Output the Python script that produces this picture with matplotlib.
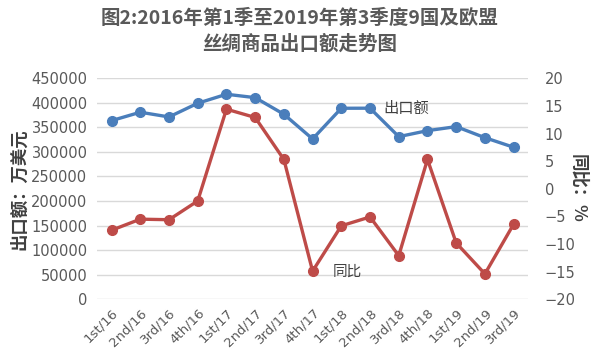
import matplotlib
matplotlib.use('Agg')
import matplotlib.pyplot as plt

plt.rcParams['font.family'] = ['DejaVu Sans', 'Noto Sans CJK SC']

# quarters and values
quarters = ['1st/16', '2nd/16', '3rd/16', '4th/16', '1st/17', '2nd/17', '3rd/17', '4th/17',
            '1st/18', '2nd/18', '3rd/18', '4th/18', '1st/19', '2nd/19', '3rd/19']
export_value = [363700, 380800, 371200, 399100, 417400, 410500, 376700, 326400,
                388900, 389000, 331100, 343300, 351500, 329000, 309500]
yoy_pct = [-7.5, -5.5, -5.6, -2.2, 14.4, 12.9, 5.3, -14.9,
           -6.7, -5.1, -12.1, 5.3, -9.8, -15.4, -6.4]

blue = '#4A7EBB'
red = '#BE4B48'
txt = '#595959'

fig = plt.figure(figsize=(6, 3.54), dpi=100)
ax = fig.add_axes([0.162, 0.1545, 0.718, 0.6245])
ax2 = ax.twinx()

x = list(range(len(quarters)))
ax.plot(x, export_value, color=blue, lw=2.4, marker='o', ms=7, zorder=3)
ax2.plot(x, yoy_pct, color=red, lw=2.4, marker='o', ms=7, zorder=3)

ax.set_xlim(-0.5, len(quarters) - 0.5)
ax.set_ylim(0, 450000)
ax.set_yticks(range(0, 450001, 50000))
ax2.set_ylim(-20, 20)
ax2.set_yticks(range(-20, 21, 5))

ax.grid(axis='y', color='#D9D9D9', lw=1)
ax.set_axisbelow(True)
for a in (ax, ax2):
    for s in a.spines.values():
        s.set_visible(False)
    a.tick_params(length=0, labelsize=10.5, colors=txt)

ax.set_xticks(x)
ax.set_xticklabels(quarters, rotation=45, ha='right', rotation_mode='anchor')
ax.tick_params(axis='x', pad=5, labelsize=9.5)
ax.tick_params(axis='y', pad=7)
ax2.tick_params(axis='y', pad=12)

ax.set_ylabel('出口额：万美元', family=['Noto Sans CJK SC'], fontsize=12.5,
              fontweight='bold', color='#404040', labelpad=2)
ax2.set_ylabel('同比：%', family=['Noto Sans CJK SC', 'DejaVu Sans'], fontsize=12.5,
               fontweight='bold', color='#404040', rotation=270, labelpad=8)

ax.text(9.45, 388000, '出口额', family=['Noto Sans CJK SC'], fontsize=11,
        color='#404040', va='center')
ax2.text(7.7, -15.1, '同比', family=['Noto Sans CJK SC'], fontsize=10.5,
         color='#404040', va='center')

fig.text(0.5, 0.975, '图2:2016年第1季至2019年第3季度9国及欧盟\n丝绸商品出口额走势图',
         ha='center', va='top', family=['Noto Sans CJK SC'], fontsize=14,
         fontweight='bold', color=txt, linespacing=1.4)

fig.savefig('out.png', dpi=100)
